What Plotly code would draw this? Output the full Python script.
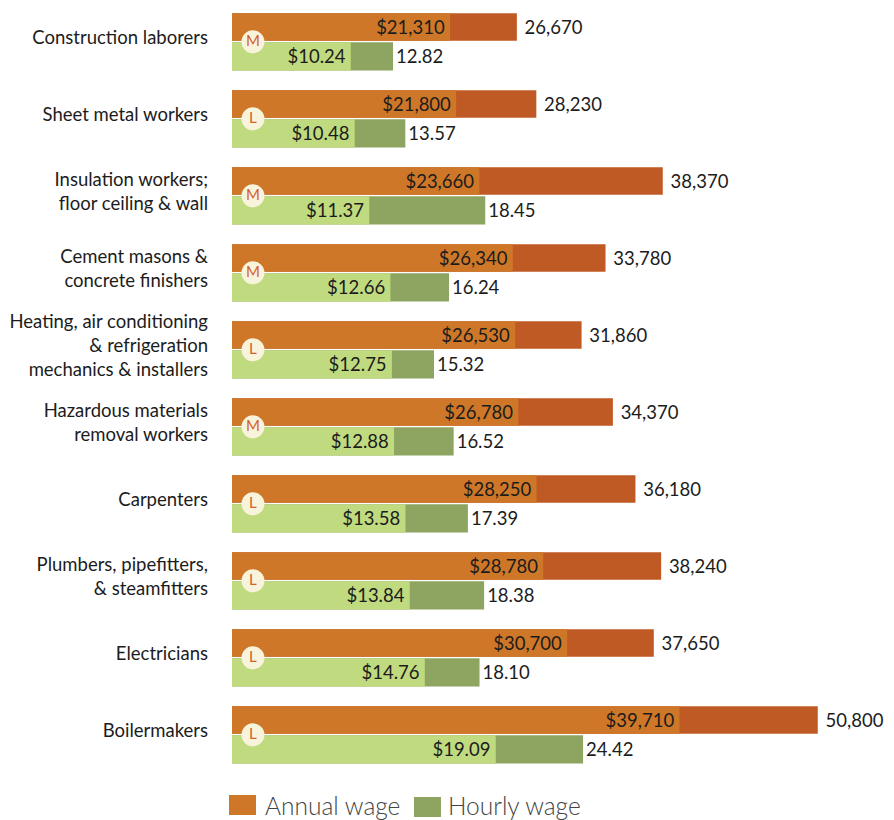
import plotly.graph_objects as go

occupations = [
    "Construction laborers",
    "Sheet metal workers",
    "Insulation workers;<br>floor ceiling & wall",
    "Cement masons &<br>concrete finishers",
    "Heating, air conditioning<br>& refrigeration<br>mechanics & installers",
    "Hazardous materials<br>removal workers",
    "Carpenters",
    "Plumbers, pipefitters,<br>& steamfitters",
    "Electricians",
    "Boilermakers",
]
annual_low = [21310, 21800, 23660, 26340, 26530, 26780, 28250, 28780, 30700, 39710]
annual_high = [26670, 28230, 38370, 33780, 31860, 34370, 36180, 38240, 37650, 50800]
hourly_low = [10.24, 10.48, 11.37, 12.66, 12.75, 12.88, 13.58, 13.84, 14.76, 19.09]
hourly_high = [12.82, 13.57, 18.45, 16.24, 15.32, 16.52, 17.39, 18.38, 18.10, 24.42]
badges = ["M", "L", "M", "M", "L", "M", "L", "L", "L", "L"]

ORANGE, RUST = "#CE7728", "#C05A24"
LIME, OLIVE = "#C0DA7F", "#8DA560"
INK = "#1c1c1c"
FONT = "Lato"
SIZE = 18.5

rows = list(range(len(occupations)))


def bar(values, color, axis, offset, width, labels, position):
    return go.Bar(
        x=values, y=rows, orientation="h", xaxis=axis, yaxis="y",
        marker=dict(color=color, line=dict(width=0)),
        offset=offset, width=width,
        text=labels, textposition=position, insidetextanchor="end",
        textfont=dict(family=FONT, size=SIZE, color=INK),
        constraintext="none", cliponaxis=False, showlegend=False, hoverinfo="x+y",
    )


fig = go.Figure()
fig.add_trace(bar(annual_high, RUST, "x", -0.37, 0.355, [f"\u00a0{v:,}" for v in annual_high], "outside"))
fig.add_trace(bar(annual_low, ORANGE, "x", -0.37, 0.355, [f"${v:,}\u2009" for v in annual_low], "inside"))
fig.add_trace(bar(hourly_high, OLIVE, "x2", 0.007, 0.365, [f"{v:.2f}" for v in hourly_high], "outside"))
fig.add_trace(bar(hourly_low, LIME, "x2", 0.007, 0.365, [f"${v:.2f}\u2009" for v in hourly_low], "inside"))

# Wage-level badges sit on the seam between each pair of bars, above both bar layers
fig.add_trace(go.Scatter(
    x=[4.27] * len(rows), y=rows, xaxis="x2", yaxis="y", mode="markers+text",
    marker=dict(size=23, color="#F8F4DC", line=dict(width=0)),
    text=badges, textposition="middle center",
    textfont=dict(family=FONT, size=15, color="#D2622C"),
    cliponaxis=False, showlegend=False, hoverinfo="skip",
))

PLOT_WIDTH = 662
HEIGHT = 820


def px(x):
    return (x - 232) / PLOT_WIDTH


def py(y):
    return 1 - y / HEIGHT


# Legend drawn as paired swatches and captions below the bars
shapes = [
    dict(type="rect", xref="paper", yref="paper", x0=px(229), x1=px(256), y0=py(815), y1=py(795),
         fillcolor=ORANGE, line=dict(width=0)),
    dict(type="rect", xref="paper", yref="paper", x0=px(414), x1=px(441), y0=py(817), y1=py(797),
         fillcolor=OLIVE, line=dict(width=0)),
]
annotations = [
    dict(xref="paper", yref="paper", x=px(263), y=py(805), text="Annual wage", showarrow=False,
         xanchor="left", yanchor="middle", font=dict(family=FONT, size=24.5, color="#444444", weight=300)),
    dict(xref="paper", yref="paper", x=px(446), y=py(805), text="Hourly wage", showarrow=False,
         xanchor="left", yanchor="middle", font=dict(family=FONT, size=24.5, color="#444444", weight=300)),
]

fig.update_layout(
    width=894, height=HEIGHT,
    margin=dict(l=232, r=0, t=0, b=0, autoexpand=False),
    paper_bgcolor="white", plot_bgcolor="white",
    barmode="overlay", showlegend=False,
    shapes=shapes, annotations=annotations,
    xaxis=dict(range=[3825, 56913], visible=False, domain=[0, 1], fixedrange=True),
    xaxis2=dict(range=[2.99, 43.4], visible=False, overlaying="x", fixedrange=True),
    yaxis=dict(
        range=[10.106, -0.543], tickmode="array",
        tickvals=[r - 0.05 for r in rows], ticktext=occupations,
        ticks="", ticklen=0, showgrid=False, zeroline=False, showline=False,
        tickfont=dict(family=FONT, size=SIZE, color=INK), ticklabelstandoff=23,
        automargin=False, fixedrange=True,
    ),
)

fig.write_html("out.html")
